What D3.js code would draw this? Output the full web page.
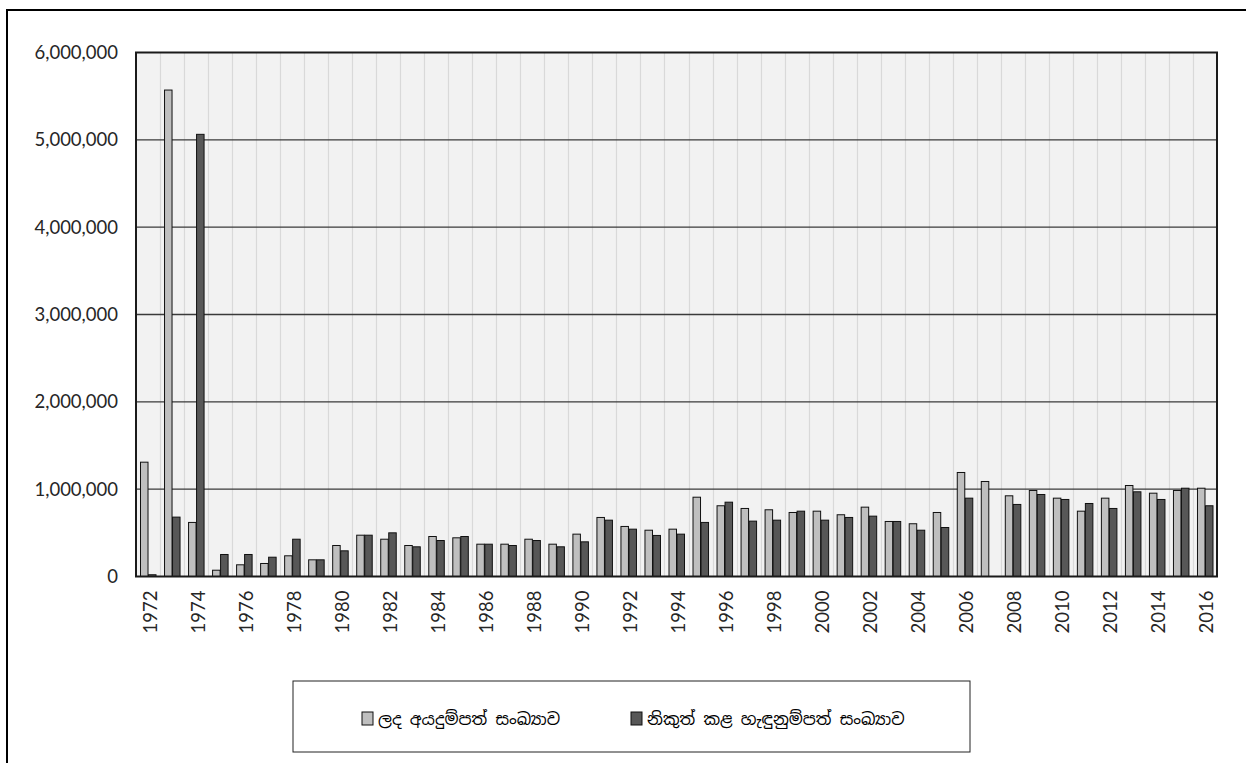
<!DOCTYPE html>
<html>
<head>
<meta charset="utf-8">
<script src="https://cdn.jsdelivr.net/npm/d3@7"></script>
<style>
  html, body { margin: 0; padding: 0; background: #fff; }
  svg { display: block; }
  .tick-label { font-family: Lato, "Open Sans", sans-serif; font-size: 18.5px; fill: #262626; }
  .legend-text { font-family: "Noto Sans Sinhala", "Iskoola Pota", "Noto Sans", sans-serif; font-size: 16.5px; fill: #000; }
</style>
</head>
<body>
<svg id="chart" width="1246" height="763"></svg>
<script>
// Years on the category axis
const years = [1972, 1973, 1974, 1975, 1976, 1977, 1978, 1979, 1980, 1981, 1982, 1983, 1984, 1985, 1986,
  1987, 1988, 1989, 1990, 1991, 1992, 1993, 1994, 1995, 1996, 1997, 1998, 1999, 2000, 2001,
  2002, 2003, 2004, 2005, 2006, 2007, 2008, 2009, 2010, 2011, 2012, 2013, 2014, 2015, 2016];

// Applications received per year
const received = [1309000, 5570000, 619000, 72000, 134000, 149000, 237000, 191000, 355000, 473000,
  427000, 355000, 458000, 443000, 370000, 370000, 427000, 370000, 485000, 676000,
  573000, 530000, 542000, 908000, 810000, 779000, 764000, 733000, 748000, 707000,
  794000, 630000, 604000, 733000, 1191000, 1088000, 924000, 985000, 897000, 748000,
  897000, 1042000, 954000, 985000, 1011000];

// Identity cards issued per year
const issued = [20000, 680000, 5063000, 252000, 252000, 221000, 427000, 191000, 294000, 473000,
  500000, 340000, 412000, 458000, 370000, 355000, 412000, 340000, 397000, 645000,
  542000, 470000, 485000, 619000, 851000, 634000, 645000, 748000, 645000, 676000,
  691000, 630000, 530000, 561000, 897000, 0, 825000, 939000, 882000, 836000,
  779000, 970000, 882000, 1011000, 810000];

const seriesNames = ["ලද අයදුම්පත් සංඛ්‍යාව", "නිකුත් කළ හැඳුනුම්පත් සංඛ්‍යාව"];
const seriesKeys = ["received", "issued"];
const yTicks = [0, 1000000, 2000000, 3000000, 4000000, 5000000, 6000000];
const xTickYears = years.filter(y => (y - 1972) % 2 === 0);

const colors = { received: "#bfbfbf", issued: "#575757" };

const rows = years.map((y, i) => ({ year: y, received: received[i], issued: issued[i] }));

const svg = d3.select("#chart");

// Outer chart frame
svg.append("rect")
  .attr("x", 7).attr("y", 10).attr("width", 1300).attr("height", 820)
  .attr("fill", "#fff").attr("stroke", "#000").attr("stroke-width", 2);

const plot = { left: 136, right: 1217, top: 52.5, bottom: 576.5 };

const x = d3.scaleBand().domain(years).range([plot.left, plot.right]).paddingInner(0).paddingOuter(0);
const bw = x.bandwidth();
const xs = d3.scaleBand().domain(seriesKeys).range([bw / 6, bw * 5 / 6]).padding(0);
const y = d3.scaleLinear().domain([0, 6000000]).range([plot.bottom, plot.top]);

// Plot background
svg.append("rect")
  .attr("x", plot.left).attr("y", plot.top)
  .attr("width", plot.right - plot.left).attr("height", plot.bottom - plot.top)
  .attr("fill", "#f2f2f2");

// Vertical gridlines between categories
svg.append("g").selectAll("line")
  .data(years.slice(1))
  .join("line")
  .attr("x1", d => Math.round(x(d)) + 0.5).attr("x2", d => Math.round(x(d)) + 0.5)
  .attr("y1", plot.top).attr("y2", plot.bottom)
  .attr("stroke", "#d9d9d9").attr("stroke-width", 1.2);

// Horizontal gridlines
svg.append("g").selectAll("line")
  .data(yTicks.slice(1, -1))
  .join("line")
  .attr("x1", plot.left).attr("x2", plot.right)
  .attr("y1", d => y(d)).attr("y2", d => y(d))
  .attr("stroke", "#3a3a3a").attr("stroke-width", 1.3);

// Bars
const groups = svg.append("g").selectAll("g")
  .data(rows)
  .join("g")
  .attr("transform", d => `translate(${x(d.year)},0)`);

groups.selectAll("rect")
  .data(d => seriesKeys.map(k => ({ key: k, value: d[k] })).filter(e => e.value > 0))
  .join("rect")
  .attr("x", d => xs(d.key) + 0.5)
  .attr("width", xs.bandwidth() - 0.5)
  .attr("y", d => y(d.value))
  .attr("height", d => y(0) - y(d.value))
  .attr("fill", d => colors[d.key])
  .attr("stroke", "#111")
  .attr("stroke-width", 1);

// Plot border
svg.append("rect")
  .attr("x", plot.left).attr("y", plot.top)
  .attr("width", plot.right - plot.left).attr("height", plot.bottom - plot.top)
  .attr("fill", "none").attr("stroke", "#1a1a1a").attr("stroke-width", 2);

// Y axis labels
const yAxis = d3.axisLeft(y).tickValues(yTicks).tickFormat(d3.format(",")).tickSize(0).tickPadding(18);
const gy = svg.append("g").attr("transform", `translate(${plot.left},0)`).call(yAxis);
gy.select(".domain").remove();
gy.selectAll("text").attr("class", "tick-label").attr("font-size", null).attr("font-family", null);

// X axis labels (rotated)
const xAxis = d3.axisBottom(x).tickValues(xTickYears).tickSize(0).tickPadding(0);
const gx = svg.append("g").attr("transform", `translate(0,${plot.bottom})`).call(xAxis);
gx.select(".domain").remove();
gx.selectAll("text")
  .attr("class", "tick-label")
  .attr("font-size", null).attr("font-family", null)
  .attr("text-anchor", "end")
  .attr("dy", null)
  .attr("dominant-baseline", "central")
  .attr("transform", "translate(1.5,14) rotate(-90)")
  .attr("x", 0).attr("y", 0);

// Legend
const legend = { x: 293, y: 681, w: 677, h: 71 };
svg.append("rect")
  .attr("x", legend.x).attr("y", legend.y).attr("width", legend.w).attr("height", legend.h)
  .attr("fill", "#fff").attr("stroke", "#222").attr("stroke-width", 1);

const legendItems = [
  { key: "received", name: seriesNames[0], x: 362 },
  { key: "issued", name: seriesNames[1], x: 631 }
];
const li = svg.append("g").selectAll("g").data(legendItems).join("g")
  .attr("transform", d => `translate(${d.x},718.5)`);
li.append("rect")
  .attr("x", 0).attr("y", -6.5).attr("width", 11).attr("height", 13)
  .attr("fill", d => colors[d.key]).attr("stroke", "#111").attr("stroke-width", 1);
li.append("text")
  .attr("class", "legend-text")
  .attr("x", 16).attr("y", 0)
  .attr("dominant-baseline", "central")
  .text(d => d.name);
</script>
</body>
</html>
